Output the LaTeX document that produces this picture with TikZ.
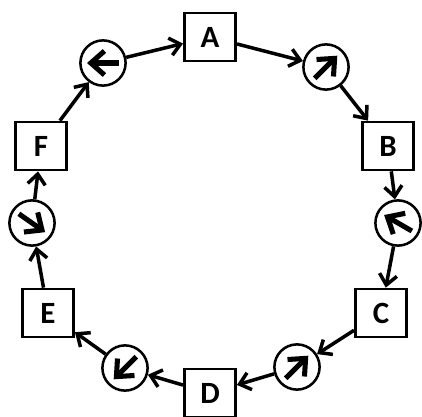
\documentclass[tikz,border=0pt]{standalone}
\usepackage{fontspec}
\setmainfont{Carlito}
\usetikzlibrary{arrows.meta,calc}

\begin{document}
\begin{tikzpicture}[
  x=0.025cm, y=0.025cm,
  >={Straight Barb[length=2.6mm,width=4.4mm]},
  every node/.style={align=center},
  station/.style={draw, line width=1.9pt, minimum width=1.28cm, minimum height=1.2cm, inner sep=0pt, font=\fontsize{22}{24}\selectfont\bfseries},
  turn/.style={draw, circle, line width=1.8pt, minimum size=1.13cm, inner sep=0pt},
  link/.style={->, line width=2.5pt},
  spin/.style={-{Straight Barb[length=3.4mm,width=6mm]}, line width=3.6pt}
]
\useasboundingbox (0,0) rectangle (422,416);

% --- Stations on the ring ---
\node[station] (A) at (210, 379) {A};
\node[station] (B) at (388, 270) {B};
\node[station] (C) at (381, 103) {C};
\node[station] (D) at (210,  23) {D};
\node[station] (E) at ( 48, 103) {E};
\node[station] (F) at ( 41, 270) {F};

% --- Turn markers between the stations ---
\node[turn] (ab) at (326, 349) {};
\node[turn] (bc) at (398, 193) {};
\node[turn] (cd) at (297,  49) {};
\node[turn] (de) at (125,  48) {};
\node[turn] (ef) at ( 32, 193) {};
\node[turn] (fa) at (103, 353) {};

% --- Arrows inside the markers ---
\draw[spin] ($(ab)+(225:16)$) -- ($(ab)+(45:16)$);
\draw[spin] ($(bc)+(330:16)$) -- ($(bc)+(150:16)$);
\draw[spin] ($(cd)+(225:16)$) -- ($(cd)+(45:16)$);
\draw[spin] ($(de)+(45:16)$)  -- ($(de)+(225:16)$);
\draw[spin] ($(ef)+(145:16)$) -- ($(ef)+(325:16)$);
\draw[spin] ($(fa)+(0:16)$)   -- ($(fa)+(180:16)$);

% --- Ring connectors ---
\draw[link] (A)  -- (ab);
\draw[link] (ab) -- (B);
\draw[link] (B)  -- (bc);
\draw[link] (bc) -- (C);
\draw[link] (C)  -- (cd);
\draw[link] (cd) -- (D);
\draw[link] (D)  -- (de);
\draw[link] (de) -- (E);
\draw[link] (E)  -- (ef);
\draw[link] (ef) -- (F);
\draw[link] (F)  -- (fa);
\draw[link] (fa) -- (A);

\end{tikzpicture}
\end{document}
